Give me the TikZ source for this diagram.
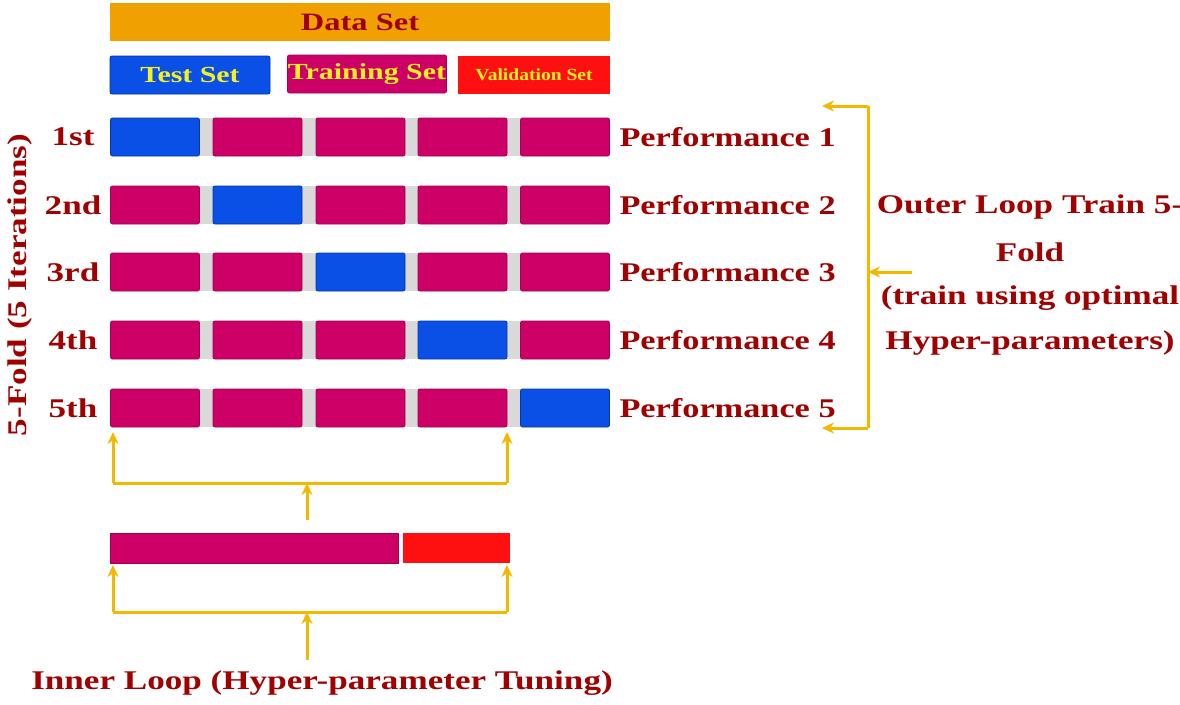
\documentclass[tikz,border=0pt]{standalone}
\usepackage{fontspec}
\setmainfont{Liberation Serif}
\usetikzlibrary{arrows.meta}
\newcommand{\wx}[1]{\scalebox{1.3}[1]{#1}}
\begin{document}
\begin{tikzpicture}[x=1pt,y=-1pt,
  mag/.style={fill=magC,draw=magC!80!black,line width=0.8pt,rounded corners=2pt},
  blu/.style={fill=bluC,draw=bluC!70!black,line width=0.8pt,rounded corners=2pt},
  lab/.style={text=txtC,font=\bfseries\fontsize{27}{30}\selectfont},
  arr/.style={draw=arrC,line width=3pt,-{Stealth[length=12pt,width=11pt]}},
  ln/.style={draw=arrC,line width=3pt}]
\definecolor{magC}{HTML}{CC0066}
\definecolor{bluC}{HTML}{0A50E6}
\definecolor{redC}{HTML}{FF1010}
\definecolor{txtC}{HTML}{A00000}
\definecolor{orC}{HTML}{F0A000}
\definecolor{arrC}{HTML}{F5B800}
\definecolor{yelC}{HTML}{F5F020}
\useasboundingbox[fill=white] (0,0) rectangle (1180,704);
% header
\node[fill=orC,minimum width=500pt,minimum height=38pt,inner sep=0,lab,font=\bfseries\fontsize{25}{26}\selectfont] (ds) at (360,22) {\wx{Data Set}};
\node[blu,minimum width=160pt,minimum height=38pt,inner sep=0,text=yelC,font=\bfseries\fontsize{23}{24}\selectfont] (ts) at (190,75) {\wx{Test Set}};
\node[mag,minimum width=159pt,minimum height=38pt,inner sep=0,text=yelC,font=\bfseries\fontsize{23}{24}\selectfont] (tr) at (367,74) {\wx{Training Set}};
\node[fill=redC,minimum width=152pt,minimum height=38pt,inner sep=0,text=yelC,font=\bfseries\fontsize{17}{18}\selectfont] (vs) at (534,75) {\scalebox{1.15}[1]{Validation Set}};
% rows
\foreach \r/\y/\lbl in {1/137/1st,2/205/2nd,3/272/3rd,4/340/4th,5/408/5th}{
  \node[lab] (l\r) at (73,\y) {\wx{\lbl}};
  \fill[gray!30] (200,\y-19) rectangle (520,\y+19);
  \foreach \c/\x in {1/155,2/257.5,3/360.5,4/462.5,5/565}{
    \ifnum\c=\r \def\st{blu}\else\def\st{mag}\fi
    \node[\st,minimum width=89pt,minimum height=38pt,inner sep=0] (b\r\c) at (\x,\y) {};
  }
  \node[lab,anchor=west] (p\r) at (616,\y) {\scalebox{1.27}[1]{Performance \r}};
}
\node[lab,rotate=90] (fold) at (20,285) {\wx{5-Fold (5 Iterations)}};
% outer bracket
\coordinate (ot) at (868,106); \coordinate (ob) at (868,428);
\draw[arr] (ot) -- (822,106);
\draw[arr] (ob) -- (822,428);
\draw[ln] (ot) -- (ob);
\coordinate (om) at (912,272);
\draw[arr] (om) -- (868,272);
\node[lab] (o1) at (1030,207) {\wx{Outer Loop Train 5-}};
\node[lab] (o2) at (1030,252) {\wx{Fold}};
\node[lab] (o3) at (1030,298) {\wx{(train using optimal}};
\node[lab] (o4) at (1030,343) {\wx{Hyper-parameters)}};
% bottom bar
\node[mag,minimum width=288pt,minimum height=30pt,inner sep=0,rounded corners=0] (bm) at (254,548) {};
\node[fill=redC,minimum width=107pt,minimum height=30pt,inner sep=0] (br) at (456.5,548) {};
% upper arrows
\draw[arr] (307,520) -- (307,483);
\draw[ln] (113,483) -- (507,483);
\draw[arr] (113,483) -- (113,432);
\draw[arr] (507,483) -- (507,432);
% lower arrows
\node[lab] (inner) at (322,683) {\wx{Inner Loop (Hyper-parameter Tuning)}};
\draw[arr] (307,660) -- (307,612);
\draw[ln] (113,612) -- (507,612);
\draw[arr] (113,612) -- (113,565);
\draw[arr] (507,612) -- (507,565);
\end{tikzpicture}
\end{document}
